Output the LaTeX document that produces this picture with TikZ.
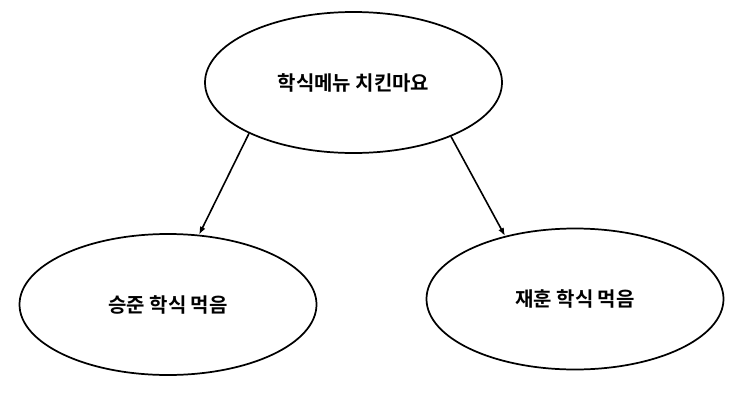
\documentclass[tikz,border=0pt]{standalone}
\usepackage{fontspec}
\setmainfont{Noto Sans CJK KR}[BoldFont={* Bold}]
\newfontfamily\kr{Noto Sans CJK KR Bold}
\usetikzlibrary{shapes.geometric,arrows.meta}
\begin{document}
\begin{tikzpicture}[x=0.75pt,y=-0.75pt,
  bubble/.style={draw, line width=1.3pt, ellipse, inner sep=0pt,
    minimum width=222.75pt, minimum height=105.75pt,
    font=\kr\fontsize{15}{17}\selectfont},
  link/.style={draw, line width=1.2pt, -{Latex[length=6pt,width=4.5pt]}}]
\useasboundingbox[fill=white] (0,0) rectangle (736,400);
\node[bubble] (top) at (353.5,82.5) {학식메뉴 치킨마요};
\node[bubble] (left) at (168,304.5) {승준 학식 먹음};
\node[bubble] (right) at (575,299) {재훈 학식 먹음};
\draw[link] (top.206.8) -- (left.66.9);
\draw[link] (top.331.8) -- (right.138.8);
\end{tikzpicture}
\end{document}
